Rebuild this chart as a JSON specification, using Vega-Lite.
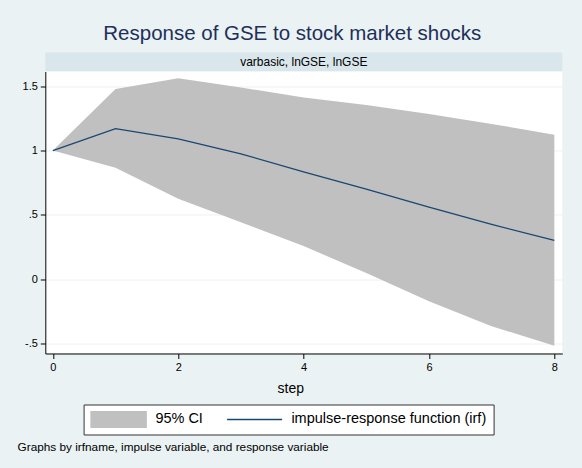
{
  "$schema": "https://vega.github.io/schema/vega-lite/v6.json",
  "autosize": {"type": "pad"},
  "padding": {"left": 17.3, "top": 23.5, "right": 40, "bottom": 40},
  "background": "#eaf2f3",
  "title": {
    "text": "Response of GSE to stock market shocks",
    "fontSize": 20.5,
    "font": "Liberation Sans",
    "fontWeight": "normal",
    "color": "#1e2f5a",
    "anchor": "middle",
    "frame": "group",
    "dx": -11.5,
    "offset": 8
  },
  "config": {
    "font": "Liberation Sans",
    "view": {"stroke": null},
    "axis": {
      "labelFont": "Liberation Sans",
      "labelFontSize": 11,
      "labelColor": "#000",
      "domainColor": "#000",
      "domainWidth": 1,
      "tickColor": "#000",
      "tickWidth": 1,
      "tickSize": 5,
      "gridColor": "#eaf2f3",
      "gridWidth": 1,
      "titleFont": "Liberation Sans",
      "titleFontWeight": "normal",
      "titleColor": "#000"
    }
  },
  "bounds": "flush",
  "spacing": 0,
  "vconcat": [
    {
      "width": 517,
      "height": 19,
      "data": {"values": [{"panel": "varbasic, lnGSE, lnGSE"}]},
      "mark": {"type": "text", "fontSize": 12, "color": "#000", "font": "Liberation Sans", "baseline": "middle"},
      "encoding": {"text": {"field": "panel", "type": "nominal"}},
      "view": {"fill": "#d9e6eb", "stroke": null}
    },
    {
      "width": 517,
      "height": 282,
      "data": {
        "values": [
          {"step": 0, "irf": 1.0, "lower": 1.0, "upper": 1.0},
          {"step": 1, "irf": 1.171, "lower": 0.866, "upper": 1.478},
          {"step": 2, "irf": 1.091, "lower": 0.625, "upper": 1.561},
          {"step": 3, "irf": 0.975, "lower": 0.444, "upper": 1.49},
          {"step": 4, "irf": 0.835, "lower": 0.258, "upper": 1.412},
          {"step": 5, "irf": 0.7, "lower": 0.05, "upper": 1.354},
          {"step": 6, "irf": 0.56, "lower": -0.171, "upper": 1.284},
          {"step": 7, "irf": 0.426, "lower": -0.365, "upper": 1.207},
          {"step": 8, "irf": 0.302, "lower": -0.515, "upper": 1.122}
        ]
      },
      "title": {
        "text": "Graphs by irfname, impulse variable, and response variable",
        "orient": "bottom",
        "anchor": "start",
        "frame": "group",
        "dx": -27.7,
        "offset": 47,
        "fontSize": 11.8,
        "font": "Liberation Sans",
        "fontWeight": "normal",
        "color": "#000",
        "baseline": "top"
      },
      "view": {"fill": "white", "stroke": null},
      "encoding": {
        "x": {
          "field": "step",
          "type": "quantitative",
          "scale": {"domain": [-0.12, 8.127], "nice": false, "zero": false},
          "axis": {
            "values": [0, 2, 4, 6, 8],
            "grid": false,
            "labelPadding": 3,
            "title": "step",
            "titleFontSize": 14,
            "titlePadding": 9,
            "titleX": 245,
            "labelFlush": false
          }
        }
      },
      "layer": [
        {
          "mark": {"type": "area", "opacity": 1},
          "encoding": {
            "y": {
              "field": "lower",
              "type": "quantitative",
              "scale": {"domain": [-0.576, 1.614], "nice": false, "zero": false},
              "axis": {
                "values": [-0.5, 0, 0.5, 1, 1.5],
                "grid": true,
                "title": null,
                "labelPadding": 3,
                "labelFlush": false,
                "labelExpr": "datum.value == 0.5 ? '.5' : (datum.value == -0.5 ? '-.5' : format(datum.value, ''))"
              }
            },
            "y2": {"field": "upper"},
            "color": {
              "datum": "95% CI",
              "type": "nominal",
              "scale": {
                "domain": ["95% CI", "impulse-response function (irf)"],
                "range": ["#c0c0c0", "#1a476f"]
              },
              "legend": {
                "orient": "none",
                "legendX": 38.3,
                "legendY": 352,
                "direction": "horizontal",
                "title": null,
                "fillColor": "white",
                "strokeColor": "#333",
                "padding": 6.5,
                "symbolSize": 3025,
                "clipHeight": 17,
                "symbolOffset": 0,
                "labelFont": "Liberation Sans",
                "labelFontSize": 14.5,
                "labelColor": "#000",
                "labelOffset": 8.3,
                "labelLimit": 400,
                "columnPadding": 23,
                "encode": {
                  "symbols": {
                    "update": {
                      "shape": {"signal": "datum.value === '95% CI' ? 'square' : 'stroke'"},
                      "fill": {"signal": "datum.value === '95% CI' ? '#c0c0c0' : 'transparent'"},
                      "stroke": {"signal": "datum.value === '95% CI' ? 'transparent' : '#1a476f'"},
                      "strokeWidth": {"value": 1.5},
                      "opacity": {"value": 1},
                      "size": {"value": 3025}
                    }
                  }
                }
              }
            }
          }
        },
        {
          "mark": {"type": "line", "strokeWidth": 1.3},
          "encoding": {
            "y": {
              "field": "irf",
              "type": "quantitative",
              "scale": {"domain": [-0.576, 1.614], "nice": false, "zero": false},
              "axis": {
                "values": [-0.5, 0, 0.5, 1, 1.5],
                "grid": true,
                "title": null,
                "labelPadding": 3,
                "labelFlush": false,
                "labelExpr": "datum.value == 0.5 ? '.5' : (datum.value == -0.5 ? '-.5' : format(datum.value, ''))"
              }
            },
            "color": {
              "datum": "impulse-response function (irf)",
              "type": "nominal",
              "legend": {
                "orient": "none",
                "legendX": 38.3,
                "legendY": 352,
                "direction": "horizontal",
                "title": null,
                "fillColor": "white",
                "strokeColor": "#333",
                "padding": 6.5,
                "symbolSize": 3025,
                "clipHeight": 17,
                "symbolOffset": 0,
                "labelFont": "Liberation Sans",
                "labelFontSize": 14.5,
                "labelColor": "#000",
                "labelOffset": 8.3,
                "labelLimit": 400,
                "columnPadding": 23,
                "encode": {
                  "symbols": {
                    "update": {
                      "shape": {"signal": "datum.value === '95% CI' ? 'square' : 'stroke'"},
                      "fill": {"signal": "datum.value === '95% CI' ? '#c0c0c0' : 'transparent'"},
                      "stroke": {"signal": "datum.value === '95% CI' ? 'transparent' : '#1a476f'"},
                      "strokeWidth": {"value": 1.5},
                      "opacity": {"value": 1},
                      "size": {"value": 3025}
                    }
                  }
                }
              }
            }
          }
        }
      ]
    }
  ]
}
